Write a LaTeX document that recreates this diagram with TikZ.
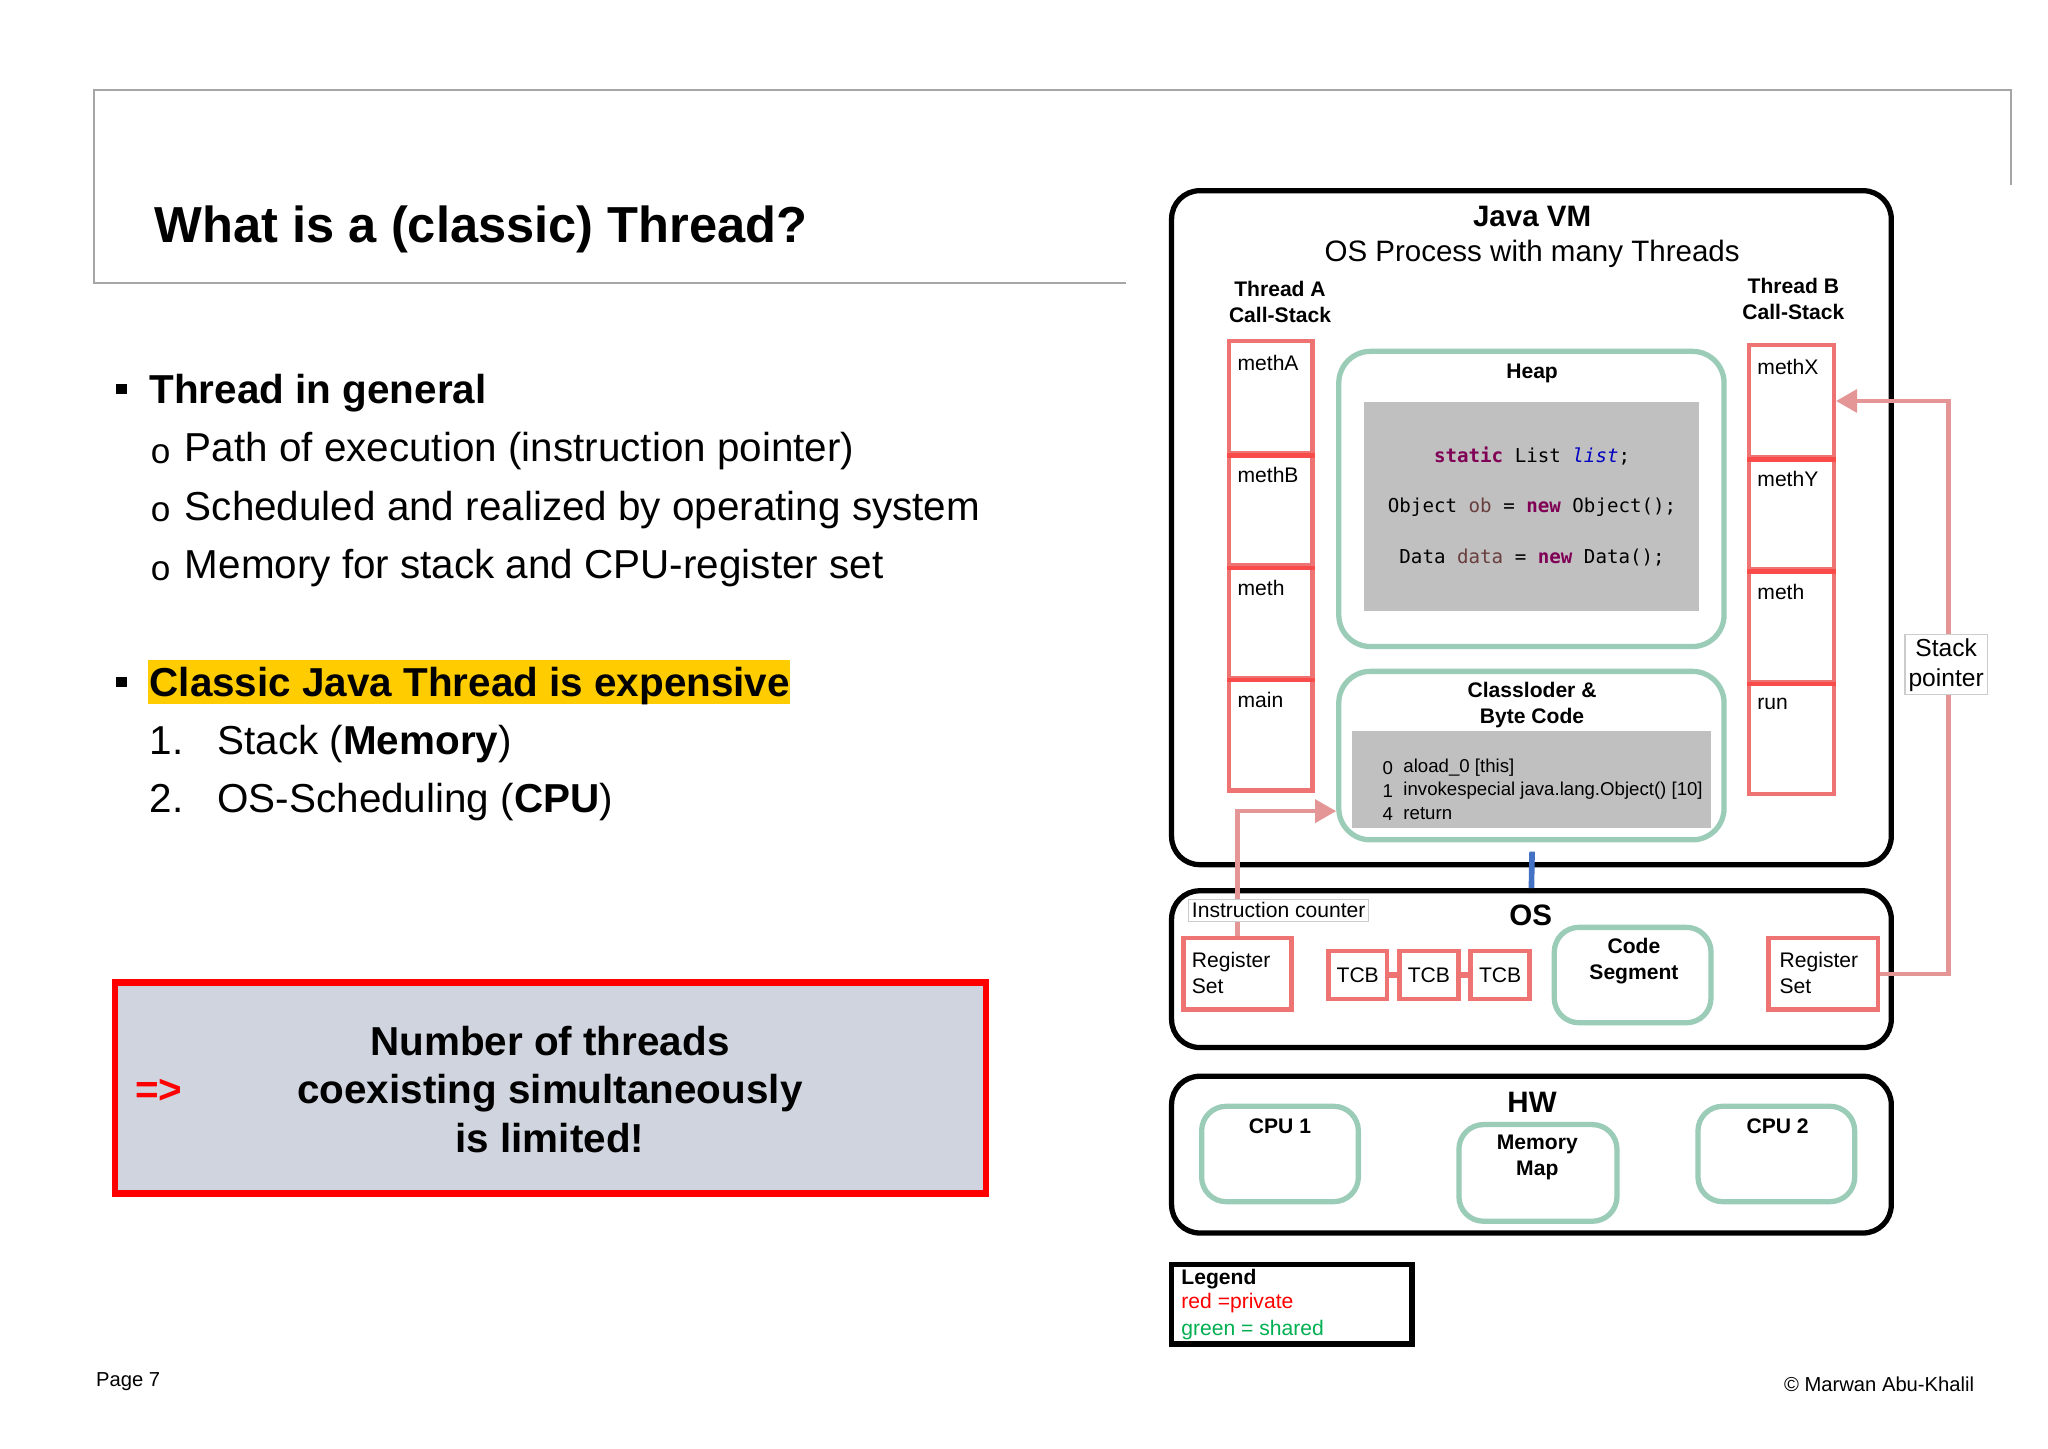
\documentclass[tikz,border=0pt]{standalone}
\usepackage{fontspec}
\setmainfont{Liberation Sans}
\setmonofont{DejaVu Sans Mono}
\usetikzlibrary{arrows.meta,fit}

\definecolor{shared}{RGB}{155,204,184}
\definecolor{private}{RGB}{238,115,115}
\definecolor{privline}{RGB}{250,75,75}
\definecolor{pointer}{RGB}{228,150,150}
\definecolor{codegray}{RGB}{192,192,192}
\definecolor{msgfill}{RGB}{208,212,222}
\definecolor{marker}{RGB}{255,204,0}
\definecolor{keyword}{RGB}{127,0,85}
\definecolor{fieldblue}{RGB}{0,0,192}
\definecolor{localvar}{RGB}{106,62,62}
\definecolor{legendgreen}{RGB}{0,176,80}
\definecolor{busblue}{RGB}{68,114,196}

\tikzset{
  layer/.style={draw=black, line width=1.5pt, rounded corners=8pt, inner sep=0pt},
  sharedbox/.style={draw=shared, line width=1.5pt, rounded corners=7pt, inner sep=0pt},
  privbox/.style={draw=private, line width=1.3pt, inner sep=0pt},
  codebox/.style={fill=codegray, inner sep=0pt},
  small/.style={font=\fontsize{6}{7.3}\selectfont, inner sep=0pt},
  smallbf/.style={font=\fontsize{6}{7.3}\selectfont\bfseries, inner sep=0pt},
  layertitle/.style={font=\fontsize{8.4}{10}\selectfont\bfseries, inner sep=0pt},
  code/.style={font=\ttfamily\fontsize{5.45}{6.5}\selectfont, inner sep=0pt},
  bytecode/.style={font=\fontsize{5.3}{6.5}\selectfont, inner sep=0pt, anchor=west},
  ptr/.style={draw=pointer, line width=1.2pt, -{Triangle[length=6pt,width=6.5pt]}},
  tag/.style={small, fill=white, draw=gray!40, line width=0.3pt, inner sep=1pt},
  slide/.style={font=\fontsize{11.5}{13.75}\selectfont, inner sep=0pt, anchor=base west},
  slidebf/.style={slide, font=\fontsize{11.5}{13.75}\selectfont\bfseries},
}

\begin{document}
\begin{tikzpicture}[x=0.013061cm, y=-0.013061cm]
  \path[use as bounding box, fill=white] (0,0) rectangle (1568,1109);

  % slide text
  \draw[gray!70, line width=0.6pt] (862,217) -- (72,217) -- (72,69) -- (1540,69) -- (1540,142);
  \node[anchor=base west, inner sep=0pt, font=\fontsize{14.4}{17}\selectfont\bfseries] (title) at (118,186) {What is a (classic) Thread?};

  \fill (89,294) rectangle (97,302);
  \node[slidebf] (general) at (114,309) {Thread in general};
  \foreach \txt [count=\i] in {Path of execution (instruction pointer), Scheduled and realized by operating system, Memory for stack and CPU-register set} {
    \node[slide, font=\fontsize{10}{12}\selectfont] (dot\i) at (115,{310+44.7*\i}) {o};
    \node[slide] (sub\i) at (141,{309+44.7*\i}) {\txt};
  }

  \fill (89,518) rectangle (97,526);
  \fill[marker] (113,505) rectangle (605,539);
  \node[slidebf] (expensive) at (114,533) {Classic Java Thread is expensive};
  \node[slide] (num1) at (114,578) {1.};
  \node[slide] (cost1) at (166,578) {Stack (\textbf{Memory})};
  \node[slide] (num2) at (114,622) {2.};
  \node[slide] (cost2) at (166,622) {OS-Scheduling (\textbf{CPU})};

  \node[draw=red, line width=1.9pt, fill=msgfill, inner sep=0pt, fit={(88,752) (755,914)}] (msg) {};
  \node[slidebf, text=red] (implies) at (103,845) {=>};
  \node[font=\fontsize{11.5}{13.75}\selectfont\bfseries, inner sep=0pt, align=center] (limit) at (421,834) {Number of threads\\coexisting simultaneously\\is limited!};

  \node[anchor=base west, inner sep=0pt, font=\fontsize{5.75}{7}\selectfont] (page) at (73,1061.5) {Page 7};
  \node[anchor=base east, inner sep=0pt, font=\fontsize{5.75}{7}\selectfont] (copyright) at (1512,1065.5) {© Marwan Abu-Khalil};

  % Java VM
  \node[layer, fit={(897,146) (1448,662)}] (jvm) {};
  \node[layertitle] (jvmtitle) at (1173,166) {Java VM};
  \node[font=\fontsize{8.4}{10}\selectfont, inner sep=0pt] (process) at (1173,194) {OS Process with many Threads};
  \node[smallbf, align=center] (threada) at (980,231) {Thread A\\Call-Stack};
  \node[smallbf, align=center] (threadb) at (1373,229) {Thread B\\Call-Stack};

  \foreach \m [count=\i from 0] in {methA,methB,meth,main} {
    \node[privbox, fit={(941,{261+86*\i}) (1005,{347+86*\i})}] (sa\i) {};
    \node[small, anchor=west] (salbl\i) at (947,{278+86*\i}) {\m};
  }
  \foreach \m [count=\i from 0] in {methX,methY,meth,run} {
    \node[privbox, fit={(1339,{264+86*\i}) (1404,{350+86*\i})}] (sb\i) {};
    \node[small, anchor=west] (sblbl\i) at (1345,{281+86*\i}) {\m};
  }
  \foreach \i in {0,1,2} {
    \draw[privline, line width=1.3pt] (sa\i.south west) -- (sa\i.south east);
    \draw[privline, line width=1.3pt] (sb\i.south west) -- (sb\i.south east);
  }

  \node[sharedbox, rounded corners=9pt, fit={(1025,269) (1320,495)}] (heap) {};
  \node[smallbf] (heaptitle) at (1173,286) {Heap};
  \node[codebox, fit={(1044,308) (1301,468)}] (heapcode) {};
  \node[code] (line1) at (1173,349) {\textcolor{keyword}{\textbf{static}} List \textcolor{fieldblue}{\textit{list}};};
  \node[code] (line2) at (1173,388) {Object \textcolor{localvar}{ob} = \textcolor{keyword}{\textbf{new}} Object();};
  \node[code] (line3) at (1173,427) {Data \textcolor{localvar}{data} = \textcolor{keyword}{\textbf{new}} Data();};

  \node[sharedbox, rounded corners=9pt, fit={(1025,514) (1320,643)}] (loader) {};
  \node[smallbf, align=center] (loadertitle) at (1173,540) {Classloder \&\\Byte Code};
  \node[codebox, fit={(1035,560) (1310,634)}] (loadercode) {};
  \foreach \n/\op [count=\i from 0] in {0/aload\_0 [this], 1/invokespecial java.lang.Object() [10], 4/return} {
    \node[bytecode] (bcnum\i) at (1058,{588+17.5*\i}) {\n};
    \node[bytecode] (bcop\i) at (1074,{588+17.5*\i}) {\op};
  }

  % OS
  \node[layer, fit={(897,682) (1448,802)}] (os) {};
  \node[layertitle] (ostitle) at (1172,701) {OS};
  \coordinate (bus) at (1173,652);
  \draw[busblue, line width=1.6pt] (bus) -- (os.north);

  \node[privbox, fit={(906,718) (989,773)}] (rsa) {};
  \node[small, align=left, anchor=west] (rsalbl) at (912,745) {Register\\Set};
  \foreach \x [count=\i] in {1039.5,1094,1148.5}
    \node[privbox, small, minimum width=16.7pt, minimum height=13.75pt] (tcb\i) at (\x,746.5) {TCB};
  \draw[private, line width=1.6pt] (tcb1) -- (tcb2);
  \draw[private, line width=1.6pt] (tcb2) -- (tcb3);
  \node[sharedbox, fit={(1190,710) (1310,783)}] (segment) {};
  \node[smallbf, align=center] (segmentlbl) at (1251,736) {Code\\Segment};
  \node[privbox, fit={(1354,718) (1438,773)}] (rsb) {};
  \node[small, align=left, anchor=west] (rsblbl) at (1362,745) {Register\\Set};

  \draw[ptr] (rsa.north) |- ([yshift=-15.8pt]loader.west);
  \draw[ptr] (rsb.east) -- ++(52,0) |- (sb0.east);
  \node[tag] (counter) at (979,697) {Instruction counter};
  \node[tag, font=\fontsize{7}{8.5}\selectfont, align=center] (stackptr) at (1490,509) {Stack\\pointer};

  % HW
  \node[layer, fit={(897,824) (1448,944)}] (hw) {};
  \node[layertitle] (hwtitle) at (1173,844) {HW};
  \node[sharedbox, fit={(920,847) (1040,920)}] (cpu1) {};
  \node[smallbf] (cpu1lbl) at (980,862) {CPU 1};
  \node[sharedbox, fit={(1117,861) (1238,935)}] (memmap) {};
  \node[smallbf, align=center] (memmaplbl) at (1177,886) {Memory\\Map};
  \node[sharedbox, fit={(1300,847) (1420,920)}] (cpu2) {};
  \node[smallbf] (cpu2lbl) at (1361,862) {CPU 2};

  % legend
  \node[draw=black, line width=1.5pt, inner sep=0pt, fit={(897,968) (1081,1029)}] (legend) {};
  \node[smallbf, anchor=west] (legendtitle) at (904,979) {Legend};
  \node[small, anchor=west, text=red] (legendred) at (904,998) {red =private};
  \node[small, anchor=west, text=legendgreen] (legendgreen) at (904,1018) {green = shared};
\end{tikzpicture}
\end{document}
